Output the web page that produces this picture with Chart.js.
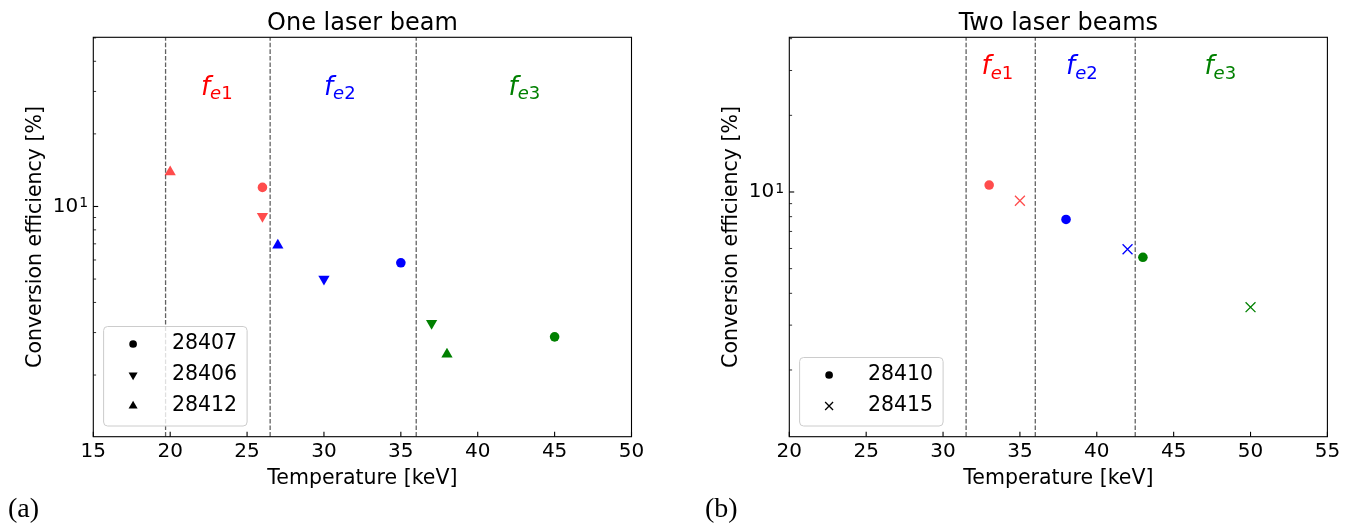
<!DOCTYPE html>
<html>
<head>
<meta charset="utf-8">
<script src="https://cdn.jsdelivr.net/npm/chart.js@4.4.1/dist/chart.umd.min.js"></script>
<style>
  html, body { margin: 0; padding: 0; background: #fff; }
  #wrap { position: relative; width: 1351px; height: 529px; }
  canvas { position: absolute; top: 0; }
</style>
</head>
<body>
<div id="wrap">
  <canvas id="one" width="676" height="529" style="left:0"></canvas>
  <canvas id="two" width="675" height="529" style="left:676px"></canvas>
</div>
<script>
// values
const oneShots = ['28407', '28406', '28412'];
const oneTemp = [[26, 35, 45], [26, 30, 37], [20, 27, 38]];
const oneEff = [[12.0, 5.84, 2.88], [9.1, 5.0, 3.28], [13.9, 6.9, 2.44]];
const oneRegime = [[0, 1, 2], [0, 1, 2], [0, 1, 2]];
const oneBounds = [19.7, 26.5, 36];
const oneLabelX = [22, 30, 42];
const oneXTicks = [15, 20, 25, 30, 35, 40, 45, 50];

const twoShots = ['28410', '28415'];
const twoTemp = [[33, 38, 43], [35, 42, 50]];
const twoEff = [[10.65, 7.8, 5.54], [9.24, 5.96, 3.53]];
const twoRegime = [[0, 1, 2], [0, 1, 2]];
const twoBounds = [31.5, 36, 42.5];
const twoLabelX = [32.5, 38, 47];
const twoXTicks = [20, 25, 30, 35, 40, 45, 50, 55];

const regimeSubs = ['e1', 'e2', 'e3'];
const regimeLabelY = 29;
const yTicks = [2, 3, 4, 5, 6, 7, 8, 9, 10, 20, 30, 40, 50];
const yMajor = 10;

// styles
const FONT = 'DejaVu Sans';
const pointColors = ['rgba(255,0,0,0.7)', '#0000ff', '#008000'];
const textColors = ['#ff0000', '#0000ff', '#008000'];
const Y_LABEL_PAD = 15;

function drawMarker(ctx, m, x, y, scale) {
  ctx.lineWidth = m.bw;
  Chart.helpers.drawPoint(ctx, {
    pointStyle: m.style, rotation: m.rot, radius: m.r * scale, borderWidth: m.bw
  }, x, y);
}

const panelPlugin = {
  id: 'panel',
  afterDraw(chart) {
    const p = chart.options.plugins.panel;
    const ctx = chart.ctx;
    const ca = chart.chartArea;
    const xs = chart.scales.x, ys = chart.scales.y;
    ctx.save();

    // frame
    ctx.strokeStyle = '#000';
    ctx.lineWidth = 1.1;
    ctx.strokeRect(ca.left, ca.top, ca.right - ca.left, ca.bottom - ca.top);

    // inward ticks
    p.xTicks.forEach(v => {
      const px = xs.getPixelForValue(v);
      ctx.beginPath();
      ctx.moveTo(px, ca.bottom);
      ctx.lineTo(px, ca.bottom - 4.9);
      ctx.stroke();
    });
    yTicks.filter(v => v >= p.yMin && v <= p.yMax).forEach(v => {
      const py = ys.getPixelForValue(v);
      const major = v === yMajor;
      ctx.lineWidth = major ? 1.1 : 0.8;
      ctx.beginPath();
      ctx.moveTo(ca.left, py);
      ctx.lineTo(ca.left + (major ? 4.9 : 2.8), py);
      ctx.stroke();
    });

    // exponent of the 10^1 tick label
    ctx.fillStyle = '#000';
    ctx.textAlign = 'left';
    ctx.textBaseline = 'alphabetic';
    ctx.font = `14px "${FONT}"`;
    ctx.fillText('1', ca.left - Y_LABEL_PAD + 1, ys.getPixelForValue(yMajor) + 1);

    // regime labels f_e1 ...
    p.labelX.forEach((lx, i) => {
      const x = xs.getPixelForValue(lx);
      const y = ys.getPixelForValue(regimeLabelY);
      ctx.fillStyle = textColors[i];
      ctx.font = `italic 26px "${FONT}"`;
      ctx.fillText('f', x, y);
      let w = ctx.measureText('f').width;
      ctx.font = `italic 18px "${FONT}"`;
      ctx.fillText(regimeSubs[i][0], x + w, y + 4.5);
      w += ctx.measureText(regimeSubs[i][0]).width;
      ctx.font = `18px "${FONT}"`;
      ctx.fillText(regimeSubs[i][1], x + w, y + 4.5);
    });

    // title
    ctx.fillStyle = '#000';
    ctx.textAlign = 'center';
    ctx.font = `24px "${FONT}"`;
    ctx.fillText(p.title, (ca.left + ca.right) / 2, 30);

    // legend
    const n = p.shots.length;
    const bx = ca.left + 10.3, bw = 143.5;
    const lastRow = ca.bottom - 10.7 - 20;
    const firstRow = lastRow - (n - 1) * 31;
    const by = firstRow - 17.5;
    const bh = ca.bottom - 10.7 - by;
    ctx.beginPath();
    ctx.roundRect(bx, by, bw, bh, 4);
    ctx.fillStyle = 'rgba(255,255,255,0.8)';
    ctx.fill();
    ctx.strokeStyle = '#cccccc';
    ctx.lineWidth = 1;
    ctx.stroke();
    ctx.textAlign = 'left';
    ctx.textBaseline = 'middle';
    ctx.font = `20.5px "${FONT}"`;
    p.shots.forEach((s, i) => {
      const y = firstRow + i * 31;
      ctx.fillStyle = '#000';
      ctx.strokeStyle = '#000';
      drawMarker(ctx, p.markers[i], bx + 29.5, y, 0.8);
      ctx.fillStyle = '#000';
      ctx.fillText(s, bx + 68.3, y);
    });

    // panel tag
    ctx.font = '28px "Liberation Serif"';
    ctx.textBaseline = 'alphabetic';
    ctx.fillText(p.tag, p.tagX, 517);
    ctx.restore();
  }
};

function makePanel(id, p) {
  const datasets = [];
  p.shots.forEach((shot, i) => {
    const m = p.markers[i];
    const cols = p.regime[i].map(r => pointColors[r]);
    datasets.push({
      label: shot,
      data: p.temp[i].map((t, j) => ({ x: t, y: p.eff[i][j] })),
      pointStyle: m.style,
      pointRotation: m.rot,
      pointRadius: m.r,
      pointBackgroundColor: cols,
      pointBorderColor: cols,
      pointBorderWidth: m.bw,
      order: 1
    });
  });
  p.bounds.forEach(b => {
    datasets.push({
      label: '',
      data: [{ x: b, y: p.yMin }, { x: b, y: p.yMax }],
      showLine: true,
      borderColor: 'rgba(0,0,0,0.62)',
      borderWidth: 1.3,
      borderDash: [4.6, 2],
      pointRadius: 0,
      order: 2
    });
  });

  new Chart(document.getElementById(id), {
    type: 'scatter',
    data: { datasets },
    options: {
      responsive: false,
      animation: false,
      devicePixelRatio: 1,
      events: [],
      layout: { padding: { left: 0, top: 37.3, right: p.rightPad, bottom: 0 } },
      scales: {
        x: {
          type: 'linear',
          min: p.xTicks[0],
          max: p.xTicks[p.xTicks.length - 1],
          afterBuildTicks: s => { s.ticks = p.xTicks.map(v => ({ value: v })); },
          ticks: { font: { family: FONT, size: 20 }, color: '#000', padding: 3, maxRotation: 0, autoSkip: false },
          grid: { display: false, drawTicks: false },
          border: { display: false },
          title: {
            display: true, text: 'Temperature [keV]', color: '#000',
            font: { family: FONT, size: 20.5 }, padding: { top: 0, bottom: 38 }
          },
          afterFit: s => { s.height = 92.3; }
        },
        y: {
          type: 'logarithmic',
          min: p.yMin,
          max: p.yMax,
          afterBuildTicks: s => {
            s.ticks = yTicks.filter(v => v >= p.yMin && v <= p.yMax).map(v => ({ value: v, major: v === yMajor }));
          },
          ticks: {
            callback: v => (v === yMajor ? '10' : ''),
            font: { family: FONT, size: 20 }, color: '#000', padding: Y_LABEL_PAD, autoSkip: false
          },
          grid: { display: false, drawTicks: false },
          border: { display: false },
          title: {
            display: true, text: 'Conversion efficiency [%]', color: '#000',
            font: { family: FONT, size: 20.5 }, padding: { top: p.yTitlePad, bottom: 0 }
          },
          afterFit: s => { s.width = p.left; }
        }
      },
      plugins: {
        legend: { display: false },
        tooltip: { enabled: false },
        panel: p
      }
    },
    plugins: [panelPlugin]
  });
}

makePanel('one', {
  title: 'One laser beam', tag: '(a)', tagX: 8,
  shots: oneShots, temp: oneTemp, eff: oneEff, regime: oneRegime,
  bounds: oneBounds, labelX: oneLabelX, xTicks: oneXTicks,
  markers: [
    { style: 'circle', rot: 0, r: 4.8, bw: 0 },
    { style: 'triangle', rot: 180, r: 6.5, bw: 0 },
    { style: 'triangle', rot: 0, r: 6.5, bw: 0 }
  ],
  yMin: 1.11, yMax: 50.3, left: 93.3, rightPad: 44.5, yTitlePad: 23.7
});

makePanel('two', {
  title: 'Two laser beams', tag: '(b)', tagX: 29,
  shots: twoShots, temp: twoTemp, eff: twoEff, regime: twoRegime,
  bounds: twoBounds, labelX: twoLabelX, xTicks: twoXTicks,
  markers: [
    { style: 'circle', rot: 0, r: 4.8, bw: 0 },
    { style: 'crossRot', rot: 0, r: 7, bw: 1.3 }
  ],
  yMin: 1.094, yMax: 40.5, left: 113.3, rightPad: 23.6, yTitlePad: 43.4
});
</script>
</body>
</html>
